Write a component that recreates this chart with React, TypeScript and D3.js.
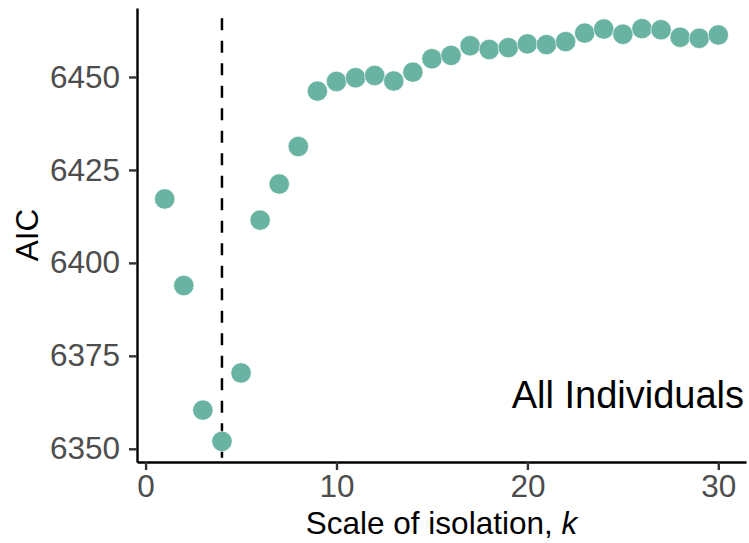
import React, { useEffect, useRef } from 'react';
import * as d3 from 'd3';

// scale of isolation k and the model AIC for each
const kValues = [1, 2, 3, 4, 5, 6, 7, 8, 9, 10, 11, 12, 13, 14, 15, 16, 17, 18, 19, 20, 21, 22, 23, 24, 25, 26, 27, 28, 29, 30];
const aicValues = [
  6417.2, 6393.9, 6360.4, 6352.0, 6370.4, 6411.5, 6421.2, 6431.3, 6446.2, 6448.8,
  6449.8, 6450.4, 6448.9, 6451.3, 6454.9, 6455.8, 6458.4, 6457.4, 6457.9, 6458.9,
  6458.7, 6459.5, 6461.8, 6462.9, 6461.5, 6463.0, 6462.7, 6460.7, 6460.4, 6461.3,
];
const xTicks = [0, 10, 20, 30];
const yTicks = [6350, 6375, 6400, 6425, 6450];
const bestK = 4;
const panelLabel = 'All Individuals';

const App = () => {
  const svgRef = useRef<SVGSVGElement>(null);
  const width = 749;
  const height = 543;

  useEffect(() => {
    const svg = d3.select(svgRef.current);
    svg.selectAll('*').remove();

    const margin = { top: 8, right: 3, bottom: 81, left: 137 };
    const innerWidth = width - margin.left - margin.right;
    const innerHeight = height - margin.top - margin.bottom;
    const font = "'Liberation Sans', Arial, sans-serif";

    // ggplot-style 5% expansion on both axes
    const xExt = d3.extent(kValues) as [number, number];
    const xPad = (xExt[1] - xExt[0]) * 0.05;
    const x = d3.scaleLinear().domain([xExt[0] - xPad, xExt[1] + xPad]).range([0, innerWidth]);

    const yExt = d3.extent(aicValues) as [number, number];
    const yPad = (yExt[1] - yExt[0]) * 0.05;
    const y = d3.scaleLinear().domain([yExt[0] - yPad, yExt[1] + yPad]).range([innerHeight, 0]);

    const g = svg.append('g').attr('transform', `translate(${margin.left},${margin.top})`);

    // dashed line at the chosen k
    g.append('line')
      .attr('x1', x(bestK))
      .attr('x2', x(bestK))
      .attr('y1', 0)
      .attr('y2', innerHeight)
      .attr('stroke', '#000')
      .attr('stroke-width', 2.5)
      .attr('stroke-dasharray', '12 10.5')
      .attr('stroke-dashoffset', 12.2);

    // points
    g.selectAll('.pt')
      .data(kValues)
      .enter().append('circle')
      .attr('class', 'pt')
      .attr('cx', d => x(d))
      .attr('cy', (d, i) => y(aicValues[i]))
      .attr('r', 10.2)
      .attr('fill', '#69b3a2')
      .attr('stroke', '#ffffff')
      .attr('stroke-width', 0.6);

    // axes
    const xAxis = g.append('g')
      .attr('transform', `translate(0,${innerHeight})`)
      .call(d3.axisBottom(x).tickValues(xTicks).tickFormat(d3.format('d')).tickSize(8).tickSizeOuter(0).tickPadding(5));

    const yAxis = g.append('g')
      .call(d3.axisLeft(y).tickValues(yTicks).tickFormat(d3.format('d')).tickSize(8).tickSizeOuter(0).tickPadding(9));

    [xAxis, yAxis].forEach(ax => {
      ax.select('.domain').attr('stroke', '#000').attr('stroke-width', 2.4);
      ax.selectAll('.tick line').attr('stroke', '#333').attr('stroke-width', 2.4);
      ax.selectAll('.tick text')
        .attr('font-family', font)
        .attr('font-size', 31.5)
        .attr('fill', '#4d4d4d');
    });

    // axis titles
    const xTitle = svg.append('text')
      .attr('x', margin.left + innerWidth / 2)
      .attr('y', 534)
      .attr('text-anchor', 'middle')
      .attr('font-family', font)
      .attr('font-size', 31.5)
      .attr('fill', '#000');
    xTitle.append('tspan').text('Scale of isolation, ');
    xTitle.append('tspan').attr('font-style', 'italic').text('k');

    svg.append('text')
      .attr('transform', `translate(38,${margin.top + innerHeight / 2}) rotate(-90)`)
      .attr('text-anchor', 'middle')
      .attr('font-family', font)
      .attr('font-size', 31.5)
      .attr('fill', '#000')
      .text('AIC');

    // panel annotation
    g.append('text')
      .attr('x', innerWidth - 2)
      .attr('y', 400)
      .attr('text-anchor', 'end')
      .attr('font-family', font)
      .attr('font-size', 38)
      .attr('fill', '#000')
      .text(panelLabel);
  }, []);

  return (
    <div style={{ position: 'absolute', left: 0, top: 0 }}>
      <svg ref={svgRef} width={width} height={height} style={{ display: 'block', background: '#fff' }}></svg>
    </div>
  );
};

export default App;
